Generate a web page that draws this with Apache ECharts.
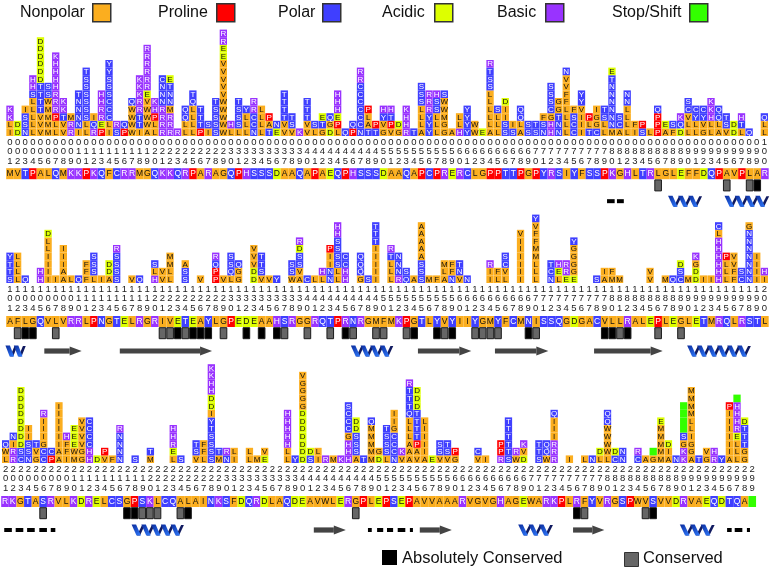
<!DOCTYPE html>
<html><head><meta charset="utf-8">
<style>html,body{margin:0;padding:0;background:#fff}#c{width:770px;height:568px}</style>
<script src="https://cdn.jsdelivr.net/npm/echarts@6/dist/echarts.min.js"></script>
</head><body><div id="c"></div>
<script>
const seqRow1 = "MVTPALQMKKPKQFCRRMGQKKQRPARAGQPHSSSDAAQAPAEQPHSSSDAAQAPCPRERCLGPPTTPGPYRSIYFSSPKGHLTRLGLEFFDQPAVPLAR";
const seqRow2 = "AFLGQVLVRRLPNGTELRGRIVETEAYLGPEDEAAHSRGGRQTPRNRGMFMKPGTLYVYIIYGMYFCMNISSQGDGACVLLRALEPLEGLETMRQLRSTL";
const seqRow3 = "RKGTASRVLKDRELCSGPSKLCQALAINKSFDQRDLAQDEAVWLERGPLEPSEPAVVAAARVGVGHAGEWARKPLRFYVRGSPWVSVVDRVAEQDTQA*";

const stacksRow1 = ["ILKK","DD","NSSI","LLLLLSHH","VVVTTTTDDDDDD","MMMMWSS","LLPRRRHHHHK","VVTKK","RRM","INNNNT",
"LLSSSSSST","RQI","PERRHH","ILCCCSSSYY","SR","PQ","WWWWQ","ITTRRKKK","AWWWVERRRRRR","LLPHK",
"RRRRNNNC","RRRMNNTE","R","LLQQ","LLLLQT","PTTT","IS","SSSST","WWWWWVVVVVEERR","LH",
"LSSST","LLLY","NCCRR","LLLL","TAP","EN","VVTTTT","VST","K","VVTTT",
"LS","GTE","DGQ","LPEHHH","Q","PQ","NCCCCCCRR","TALP","TP","GVYH",
"VPTH","GD","RHHK","T","ALLLSSS","YYYRRR","LLLSSH","GGMWWS","A","HLL",
"YYYY","WW","E","ALLLLLSSTR","LLLS","SSIID","SI","ALQQ","SS","ST",
"NSF","HHGCSSS","NNTGG","LLLLFFVVN","CCSF","IIIVYY","TLP","CGGI","LLST","MNNNNNNTE",
"ACS","LLLLNN","IF","SP","L","PPPQ","AE","FS","DQK","LLVCS",
"LLYC","GVYC","LLHKK","ALQQ","VST","DD","LTH","Q","","LLQ"];
const stacksRow2 = ["STTY","LLLL","Q","","HH","IIIILLD","I","AAIII","L","Q",
"FFF","LSSS","I","ADD","SSSSR","","V","Q","","HLS",
"VV","LLMM","","SSA","","V","","PPQR","V","LQSS",
"GGQ","","DDVVV","VSTT","V","Y","","WSS","AVSSDR","C",
"L","LH","NNIIP","LLSSSSHH","HHCC","","GQQQ","S","IIIIITTT","",
"LLLTR","RNNN","QS","A","SSSAAAAA","M","F","ALM","NFF","VNT",
"N","","","IIR","LF","LVCS","","IIIIIIV","","LLLMMFFVY",
"","NCT","LEH","ERR","EGGGGY","","","S","AI","MF",
"M","","","","VV","","M","Q","CSD","M",
"DDGK","I","I","HHHHHHLC","LLLP","FFVV","CS","NNNNNNNG","IIII","IH"];
const stacksRow3 = ["LWQ","RRIN","CSDDDDDDDD","NSSII","GVT","CCGIIIR","PC","AAIIIIII","IFFH","MWEEE",
"GGVVVV","HHCCCC","D","VP","F","NNNNR","","S","","MT",
"","","LERHH","S","","VST","LFF","SSSSTYIDDHHKK","MT","NR",
"IL","","LL","M","EV","","","LLHHHHH","Y","DDDDDDDGGGGV",
"SD","IL","R","M","K","HHHGCCCS","ASSSDD","T","MMMMMQ","DG",
"LSSST","NCCCGII","VK","AAALLLQTTTR","VAPTTTTDDD","AIIIIL","E","VSS","VST","GP",
"","","VC","I","","RPP","STTTTT","WR","DVK","",
"STT","WQQ","RRRIIIQ","","I","","L","N","LD","LWWWWQQ",
"CD","NN","","CR","A","G*","MMMMME","AID","N","KKGS****",
"AGGILLMMMM","T","GV","RH","Y","AIIIIIIP","LLLERHHH*","GGTTTD",""];

const absolutelyConserved = [99,103,104,123,125,126,127,132,134,136,145,154,157,159,169,179,180,182,217,218,225,276,286];
const conserved = [86,95,98,102,107,121,122,124,129,137,140,143,146,149,150,153,158,162,163,164,165,170,181,186,189,206,219,220,221,224,247,277,285];

const helices = [[87.5,91.5],[94.9,100.3],[100.6,102.8],[145.9,151],[190,197.9],[217.8,224.2],[268.5,272.6],[289.7,293.8]];
const strands = [[105.5,110.4],[115.4,127.5],[154.5,161.5],[164.6,171.6],[177.6,186.6],[241.5,245.7],[255.4,259.6],[275.5,279.6]];
const coils = [[79.3,80.3],[80.6,81.5],[200.9,201.9],[202.4,203.4],[203.9,204.9],[205.5,206.5],[207,207.6],
[248.6,249.1],[249.8,250.6],[251.1,251.9],[252.5,253.5],[254.1,254.5],[295.7,296.3],[296.7,297.7],[298.3,298.7]];

const legendClasses = ["Nonpolar","Proline","Polar","Acidic","Basic","Stop/Shift"];
const classColors = {Nonpolar:"#FBAE1F",Proline:"#FF0000",Polar:"#3F3FFF",Acidic:"#DDFF00",Basic:"#9933FF","Stop/Shift":"#33FF00"};
const residueClass = r => "AFGILMVW".includes(r) ? "Nonpolar" : r==="P" ? "Proline" : "CNQSTY".includes(r) ? "Polar" :
  "DE".includes(r) ? "Acidic" : "HKR".includes(r) ? "Basic" : "Stop/Shift";
const letterColor = c => (c==="Nonpolar"||c==="Acidic") ? "#111" : "#fff";

const FONT = '"Liberation Sans", Arial, sans-serif';
const PITCH = 7.625, UNIT = 7.6, LEVELS = 14, TRACK = 12;
const rows = [
 {first:1,  seq:seqRow1, stacks:stacksRow1, x1:10, base:136, seqY:173.7, ssTrack:2.79},
 {first:101,seq:seqRow2, stacks:stacksRow2, x1:10, base:283, seqY:321.5, ssTrack:2.96},
 {first:201,seq:seqRow3, stacks:stacksRow3, x1:5,  base:463, seqY:501.5, ssTrack:2.875}
];

function cellShape(api, cx, cy, w, h, letter, fs){
  const cls = residueClass(letter);
  const kids = [{type:"rect",shape:{x:cx-w/2,y:cy-h/2,width:w,height:h},style:{fill:classColors[cls]}}];
  if (letter !== "*") kids.push({type:"text",style:{text:letter,x:cx,y:cy+0.3,align:"center",verticalAlign:"middle",
    fontFamily:FONT,fontSize:fs,fill:letterColor(cls)}});
  return {type:"group",children:kids};
}

const grid=[],xAxis=[],yAxis=[],series=[];
rows.forEach((row,ri)=>{
  const n=row.seq.length, left=row.x1-PITCH/2, width=n*PITCH;
  const positions=Array.from({length:n},(_,i)=>row.first+i);
  grid.push({left,width,top:row.base-LEVELS*UNIT,height:LEVELS*UNIT});
  xAxis.push({gridIndex:ri*2,type:"category",data:positions.map(String),axisLine:{show:false},axisTick:{show:false},
    axisLabel:{interval:0,margin:1,fontFamily:FONT,fontSize:9.5,lineHeight:9.9,color:"#222",hideOverlap:false,
      formatter:v=>String(v).padStart(3,"0").split("").join("\n")}});
  yAxis.push({gridIndex:ri*2,type:"value",min:0,max:LEVELS,show:false});
  const cells=[];
  row.stacks.forEach((s,i)=>{[...s].forEach((l,k)=>cells.push({i,k,l}));});
  series.push({type:"custom",coordinateSystem:"cartesian2d",xAxisIndex:ri*2,yAxisIndex:ri*2,clip:false,silent:true,
    data:cells.map(c=>[c.i,c.k+0.5]),encode:{x:0,y:1},
    renderItem:(p,api)=>{
      const c=cells[p.dataIndex],pt=api.coord([api.value(0),api.value(1)]),sz=api.size([1,1]);
      return cellShape(api,pt[0],pt[1],sz[0]*0.96,sz[1],c.l,8);
    }});
  grid.push({left,width,top:row.seqY-6,height:4*TRACK});
  xAxis.push({gridIndex:ri*2+1,type:"value",min:row.first-0.5,max:row.first+n-0.5,show:false});
  yAxis.push({gridIndex:ri*2+1,type:"value",min:0,max:4,inverse:true,show:false});
  const seqLetters=[...row.seq];
  series.push({type:"custom",coordinateSystem:"cartesian2d",xAxisIndex:ri*2+1,yAxisIndex:ri*2+1,clip:false,silent:true,
    data:seqLetters.map((l,i)=>[row.first+i,0.5]),encode:{x:0,y:1},
    renderItem:(p,api)=>{
      const pt=api.coord([api.value(0),api.value(1)]),sz=api.size([1,1]);
      return cellShape(api,pt[0],pt[1],sz[0],11,seqLetters[p.dataIndex],8.5);
    }});
  const inRow=r=>r>=row.first&&r<row.first+n;
  const cons=absolutelyConserved.filter(inRow).map(r=>[r,1.475,1]).concat(conserved.filter(inRow).map(r=>[r,1.475,0]));
  series.push({type:"custom",coordinateSystem:"cartesian2d",xAxisIndex:ri*2+1,yAxisIndex:ri*2+1,clip:false,silent:true,
    data:cons,encode:{x:0,y:1},
    renderItem:(p,api)=>{
      const pt=api.coord([api.value(0),api.value(1)]),sz=api.size([1,1]),abs=api.value(2)===1;
      return {type:"rect",shape:{x:pt[0]-sz[0]/2+0.5,y:pt[1]-5.5,width:sz[0]-1,height:11},
        style:{fill:abs?"#000":"#666",stroke:"#1a1a1a",lineWidth:1}};
    }});
  const items=[...helices.map(h=>["h",...h]),...strands.map(h=>["s",...h]),...coils.map(h=>["c",...h])]
    .filter(e=>inRow(Math.round(e[1]))||inRow(Math.round(e[2])));
  series.push({type:"custom",coordinateSystem:"cartesian2d",xAxisIndex:ri*2+1,yAxisIndex:ri*2+1,clip:false,silent:true,
    data:items.map(e=>[e[1],row.ssTrack,e[2]]),encode:{x:0,y:1},
    renderItem:(p,api)=>{
      const kind=items[p.dataIndex][0];
      const a=api.coord([api.value(0),api.value(1)]),b=api.coord([api.value(2),api.value(1)]);
      const x0=a[0],x1=b[0],y=a[1],w=x1-x0;
      if(kind==="c") return {type:"rect",shape:{x:x0,y:y-2,width:w,height:4},style:{fill:"#000"}};
      if(kind==="s") return {type:"group",children:[
        {type:"rect",shape:{x:x0,y:y-2.6,width:Math.max(0,w-12),height:5.2},style:{fill:"#444"}},
        {type:"polygon",shape:{points:[[x1-12,y-4.5],[x1,y],[x1-12,y+4.5]]},style:{fill:"#444"}}]};
      const turns=Math.max(1,Math.round(w/10)),per=w/turns,kids=[];
      for(let k=0;k<turns;k++){
        const x=x0+k*per;
        kids.push({type:"polygon",shape:{points:[[x+per*0.5-1,y+5.5],[x+per*0.5+2,y+5.5],[x+per+2,y-5],[x+per-0.8,y-5]]},style:{fill:"#101a60"}});
        kids.push({type:"polygon",shape:{points:[[x-1.5,y-5.5],[x+3,y-5.5],[x+per*0.5+3,y+5.5],[x+per*0.5-1.5,y+5.5]]},
          style:{fill:{type:"linear",x:0,y:0,x2:1,y2:1,colorStops:[{offset:0,color:"#0a2a9a"},{offset:1,color:"#2f7bff"}]}}});
      }
      return {type:"group",children:kids};
    }});
});

const legendLayout = [[20,92],[158,216],[278,322],[382,434],[497,545],[612,689]];
const graphic=[];
legendClasses.forEach((name,i)=>{
  graphic.push({type:"text",left:legendLayout[i][0],top:5,style:{text:name,fontFamily:FONT,fontSize:16,fill:"#111"}});
  graphic.push({type:"rect",left:legendLayout[i][1],top:3,shape:{width:18,height:18},
    style:{fill:classColors[name],stroke:"#333",lineWidth:1.5}});
});
graphic.push({type:"rect",left:382,top:550,shape:{width:15,height:15},style:{fill:"#000"}});
graphic.push({type:"text",left:402,top:550,style:{text:"Absolutely Conserved",fontFamily:FONT,fontSize:16.5,fill:"#111"}});
graphic.push({type:"rect",left:624,top:552,shape:{width:14,height:14},style:{fill:"#666",stroke:"#333",lineWidth:1}});
graphic.push({type:"text",left:643,top:550,style:{text:"Conserved",fontFamily:FONT,fontSize:16.5,fill:"#111"}});

const chart=echarts.init(document.getElementById("c"),null,{renderer:"canvas"});
chart.setOption({animation:false,backgroundColor:"#fff",grid,xAxis,yAxis,series,graphic});
</script></body></html>
